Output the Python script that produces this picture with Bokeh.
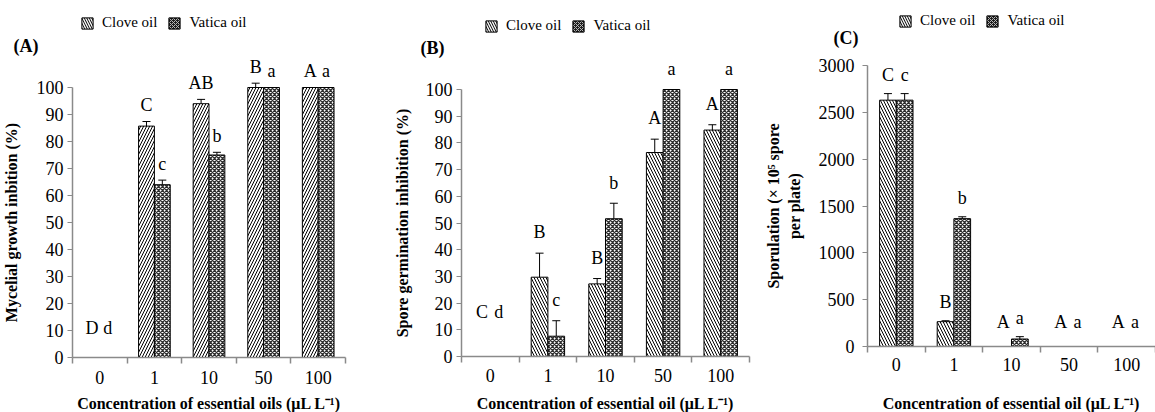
import numpy as np
from bokeh.plotting import figure
from bokeh.models import (Range1d, FixedTicker, ColumnDataSource, Whisker, TeeHead,
                          Legend, LegendItem)
from bokeh.layouts import row
from bokeh.embed import file_html
from bokeh.resources import INLINE
from bokeh.core.properties import value

FONT = "Liberation Serif"

concentrations = ["0", "1", "10", "50", "100"]
series_names = ["Clove oil", "Vatica oil"]

# Panel A: mycelial growth inhibition (%)
a_clove = [0, 85.7, 94.0, 100.0, 100.0]
a_clove_err = [0, 1.7, 1.6, 1.6, 0]
a_vatica = [0, 64.0, 75.0, 100.0, 100.0]
a_vatica_err = [0, 1.7, 1.0, 0, 0]
a_clove_letters = ["D", "C", "AB", "B", "A"]
a_vatica_letters = ["d", "c", "b", "a", "a"]

# Panel B: spore germination inhibition (%)
b_clove = [0, 29.7, 27.2, 76.4, 84.8]
b_clove_err = [0, 9.0, 2.0, 5.0, 2.0]
b_vatica = [0, 7.6, 51.6, 100.0, 100.0]
b_vatica_err = [0, 5.8, 5.8, 0, 0]
b_clove_letters = ["C", "B", "B", "A", "A"]
b_vatica_letters = ["d", "c", "b", "a", "a"]

# Panel C: sporulation (x 10^5 spore per plate)
c_clove = [2630, 265, 0, 0, 0]
c_clove_err = [70, 10, 0, 0, 0]
c_vatica = [2630, 1365, 80, 0, 0]
c_vatica_err = [70, 20, 25, 0, 0]
c_clove_letters = ["C", "B", "A", "A", "A"]
c_vatica_letters = ["c", "b", "a", "a", "a"]

a_yticks = list(range(0, 101, 10))
b_yticks = list(range(0, 101, 10))
c_yticks = list(range(0, 3001, 500))

AXIS_COLOR = "#8a8a8a"
HEIGHT = 412


def make_panel(clove, clove_err, vatica, vatica_err, clove_letters, vatica_letters,
               ylabel, xlabel, tag, yticks, ymax, gap, floor, clove_hatch,
               width, px_x0, px_x5, px_y0, px_ymax, legend_px, tag_px,
               ylabel_standoff, ytick_standoff, xtick_standoff, xlabel_standoff):
    n = len(concentrations)
    # pixel -> data mapping for a frame that fills the whole canvas
    sx = (px_x5 - px_x0) / n
    sy = (px_y0 - px_ymax) / ymax
    x_start = -px_x0 / sx
    x_end = n + (width - px_x5) / sx
    y_start = -(HEIGHT - px_y0) / sy
    y_end = ymax + px_ymax / sy

    centers = np.arange(n) + 0.5
    off = 0.145
    bw = 0.29
    p = figure(width=width, height=HEIGHT, output_backend="svg", toolbar_location=None,
               x_range=Range1d(x_start, x_end), y_range=Range1d(y_start, y_end),
               min_border=0, title=None)
    p.outline_line_color = None
    p.grid.visible = False
    p.background_fill_color = "white"
    p.border_fill_color = "white"

    xc = list(centers - off)
    xv = list(centers + off)
    p.vbar(x=xc, top=clove, width=bw, fill_color="white", line_color="black", line_width=1,
           hatch_pattern=clove_hatch, hatch_color="black", hatch_scale=6, hatch_weight=1)
    p.vbar(x=xv, top=vatica, width=bw, fill_color="#ffffff", line_color="black", line_width=1,
           hatch_pattern="diagonal_cross", hatch_color="#2e2e2e", hatch_scale=4, hatch_weight=1.3)

    # legend swatches (dark squares with light pattern, as in the original key);
    # hidden renderers that only supply the legend's look
    kc = p.vbar(x=xc, top=clove, width=bw, fill_color="#111111", line_color="black",
                hatch_pattern="left_diagonal_line", hatch_color="white", hatch_scale=5,
                hatch_weight=1.3, visible=False)
    kv = p.vbar(x=xv, top=vatica, width=bw, fill_color="#1c1c1c", line_color="black",
                hatch_pattern="diagonal_cross", hatch_color="#b8b8b8", hatch_scale=4,
                hatch_weight=1, visible=False)

    for xs, vals, errs in ((xc, clove, clove_err), (xv, vatica, vatica_err)):
        keep = [i for i in range(n) if errs[i] > 0]
        src = ColumnDataSource(dict(x=[xs[i] for i in keep],
                                    upper=[vals[i] + errs[i] for i in keep],
                                    lower=[vals[i] - errs[i] for i in keep]))
        w = Whisker(base="x", upper="upper", lower="lower", source=src,
                    line_color="black", line_width=1,
                    upper_head=TeeHead(size=8, line_color="black", line_width=1),
                    lower_head=TeeHead(size=8, line_color="black", line_width=1))
        p.add_layout(w)

    for xs, vals, errs, letters in ((xc, clove, clove_err, clove_letters),
                                    (xv, vatica, vatica_err, vatica_letters)):
        ys = [max(v + e, floor) + gap for v, e in zip(vals, errs)]
        p.text(x=xs, y=ys, text=letters, text_font=value(FONT), text_font_size=value("18px"),
               text_align="center", text_baseline="bottom", text_color="black")

    # panel tag, e.g. "(A)"
    p.text(x=[x_start + tag_px[0] / sx], y=[y_end - tag_px[1] / sy], text=[tag],
           text_font=value(FONT), text_font_style="bold", text_font_size=value("18px"),
           text_align="left", text_baseline="middle", text_color="black")

    # y axis
    p.yaxis.fixed_location = 0
    p.yaxis.ticker = FixedTicker(ticks=yticks, minor_ticks=[])
    p.yaxis.bounds = (0, ymax)
    p.yaxis.axis_line_color = AXIS_COLOR
    p.yaxis.axis_line_width = 1.5
    p.yaxis.major_tick_line_color = AXIS_COLOR
    p.yaxis.major_tick_out = 5
    p.yaxis.major_tick_in = 0
    p.yaxis.major_label_text_font = FONT
    p.yaxis.major_label_text_font_size = "18px"
    p.yaxis.major_label_text_color = "black"
    p.yaxis.major_label_standoff = ytick_standoff
    p.yaxis.axis_label = ylabel
    p.yaxis.axis_label_text_font = FONT
    p.yaxis.axis_label_text_font_style = "bold"
    p.yaxis.axis_label_text_font_size = "16px"
    p.yaxis.axis_label_text_color = "black"
    p.yaxis.axis_label_standoff = ylabel_standoff

    # x axis: labels at group centres, ticks at group boundaries
    p.xaxis.fixed_location = 0
    p.xaxis.ticker = FixedTicker(ticks=list(centers), minor_ticks=list(range(n + 1)))
    p.xaxis.bounds = (0, n)
    p.xaxis.major_label_overrides = {float(c): lab for c, lab in zip(centers, concentrations)}
    p.xaxis.axis_line_color = AXIS_COLOR
    p.xaxis.axis_line_width = 1.5
    p.xaxis.major_tick_out = 0
    p.xaxis.major_tick_in = 0
    p.xaxis.minor_tick_out = 6
    p.xaxis.minor_tick_in = 0
    p.xaxis.minor_tick_line_color = AXIS_COLOR
    p.xaxis.minor_tick_line_width = 1.5
    p.xaxis.major_label_text_font = FONT
    p.xaxis.major_label_text_font_size = "18px"
    p.xaxis.major_label_text_color = "black"
    p.xaxis.major_label_standoff = xtick_standoff
    p.xaxis.axis_label = xlabel
    p.xaxis.axis_label_text_font = FONT
    p.xaxis.axis_label_text_font_style = "bold"
    p.xaxis.axis_label_text_font_size = "16px"
    p.xaxis.axis_label_text_color = "black"
    p.xaxis.axis_label_standoff = xlabel_standoff

    legend = Legend(items=[LegendItem(label=series_names[0], renderers=[kc]),
                           LegendItem(label=series_names[1], renderers=[kv])],
                    location=(legend_px[0], HEIGHT - legend_px[1]), orientation="horizontal",
                    border_line_alpha=0, background_fill_alpha=0, padding=0, margin=0,
                    spacing=10, glyph_width=14, glyph_height=14, label_standoff=8,
                    label_text_font=FONT, label_text_font_size="15px", label_height=14,
                    label_text_color="black", inactive_fill_alpha=0)
    p.add_layout(legend)
    return p


pa = make_panel(a_clove, a_clove_err, a_vatica, a_vatica_err, a_clove_letters, a_vatica_letters,
                "Mycelial growth inbition (%)", "Concentration of essential oils (\u03bcL L\u207b\u00b9)",
                "(A)", a_yticks, 100, 2.3, 5, "right_diagonal_line",
                390, 72, 345, 357, 87, (80, 31), (13, 45), 14, 4, 7, 8)

pb = make_panel(b_clove, b_clove_err, b_vatica, b_vatica_err, b_clove_letters, b_vatica_letters,
                "Spore germination inhibition (%)", "Concentration of essential oil (\u03bcL L\u207b\u00b9)",
                "(B)", b_yticks, 100, 4, 9, "left_diagonal_line",
                372, 71, 359, 356, 89, (94, 34), (30, 47), 12, 4, 6, 10)

pc = make_panel(c_clove, c_clove_err, c_vatica, c_vatica_err, c_clove_letters, c_vatica_letters,
                "Sporulation (\u00d7 10\u2075 spore\nper plate)", "Concentration of essential oil (\u03bcL L\u207b\u00b9)",
                "(C)", c_yticks, 3000, 90, 60, "left_diagonal_line",
                393, 105, 393, 346, 65, (136, 29), (71, 37), 13, 8, 5, 21)

layout = row(pa, pb, pc)
open("out.html", "w").write(file_html(layout, INLINE))
